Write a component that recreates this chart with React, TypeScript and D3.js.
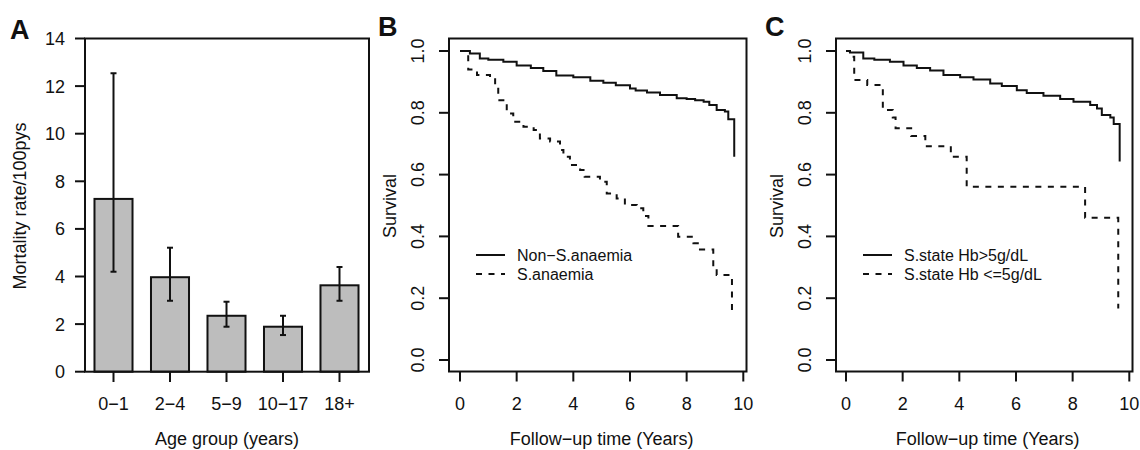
import React from 'react';
import * as d3 from 'd3';

// Panel A: mortality rate by age group
const ageGroups = ['0−1', '2−4', '5−9', '10−17', '18+'];
const mortRate = [7.26, 3.97, 2.35, 1.89, 3.63];
const mortLow = [4.2, 2.98, 1.89, 1.54, 2.98];
const mortHigh = [12.54, 5.21, 2.94, 2.35, 4.4];
const rateTicks = [0, 2, 4, 6, 8, 10, 12, 14];

// Panel B: Kaplan-Meier curves (step times / survival)
const bNonTime = [0, 0.35, 0.7, 1.0, 1.53, 2.0, 2.5, 2.94, 3.4, 4.0, 4.6, 5.06, 5.5, 6.0, 6.2, 6.6, 7.06, 7.65, 8.0, 8.3, 8.6, 8.8, 9.06, 9.35, 9.47, 9.68];
const bNonSurv = [1, 0.992, 0.976, 0.972, 0.965, 0.953, 0.945, 0.935, 0.921, 0.915, 0.904, 0.897, 0.889, 0.879, 0.872, 0.866, 0.858, 0.847, 0.845, 0.841, 0.836, 0.825, 0.809, 0.804, 0.779, 0.658];
const bSevTime = [0, 0.18, 0.29, 0.6, 1.06, 1.24, 1.35, 1.65, 1.88, 2.24, 2.6, 2.82, 3.18, 3.53, 3.65, 3.88, 4.24, 4.4, 4.94, 5.18, 5.53, 5.82, 6.24, 6.47, 6.65, 7.7, 8.24, 8.47, 8.94, 9.06, 9.6];
const bSevSurv = [1, 0.987, 0.94, 0.922, 0.912, 0.885, 0.841, 0.798, 0.771, 0.755, 0.744, 0.717, 0.707, 0.68, 0.658, 0.631, 0.615, 0.593, 0.577, 0.539, 0.523, 0.502, 0.491, 0.466, 0.434, 0.399, 0.378, 0.358, 0.302, 0.275, 0.162];

// Panel C
const cHighTime = [0, 0.14, 0.61, 1.0, 1.55, 2.03, 2.5, 2.97, 3.44, 4.03, 4.5, 5.09, 5.5, 6.03, 6.38, 6.97, 7.56, 8.03, 8.62, 8.86, 9.03, 9.33, 9.45, 9.66];
const cHighSurv = [1, 0.995, 0.976, 0.972, 0.965, 0.953, 0.945, 0.937, 0.922, 0.915, 0.908, 0.895, 0.887, 0.873, 0.864, 0.855, 0.845, 0.836, 0.825, 0.814, 0.793, 0.785, 0.764, 0.642];
const cLowTime = [0, 0.14, 0.29, 0.75, 1.3, 1.65, 1.75, 2.3, 2.8, 3.7, 4.26, 8.44, 9.61];
const cLowSurv = [1, 0.981, 0.906, 0.89, 0.809, 0.785, 0.75, 0.725, 0.692, 0.658, 0.561, 0.46, 0.167];

const timeTicks = [0, 2, 4, 6, 8, 10];
const survTicks = [0, 0.2, 0.4, 0.6, 0.8, 1.0];

const FONT = '"Liberation Sans", Arial, Helvetica, sans-serif';
const INK = '#111';
const DASH = '6,6.5';
const FS = 18;

const BarPanel = () => {
  const y = d3.scaleLinear().domain([0, 14]).range([371.7, 38.5]);
  const x = d3.scaleBand<string>()
    .domain(ageGroups)
    .range([85.25, 367.75])
    .paddingInner(0.327)
    .paddingOuter(0.1635);
  const bw = x.bandwidth();
  return (
    <g>
      {ageGroups.map((g, i) => (
        <rect key={g} x={x(g)} y={y(mortRate[i])} width={bw} height={y(0) - y(mortRate[i])}
          fill="#bdbdbd" stroke={INK} strokeWidth={2} />
      ))}
      {ageGroups.map((g, i) => {
        const cx = (x(g) as number) + bw / 2;
        return (
          <g key={'e' + g} stroke={INK} strokeWidth={2}>
            <line x1={cx} x2={cx} y1={y(mortLow[i])} y2={y(mortHigh[i])} />
            <line x1={cx - 3} x2={cx + 3} y1={y(mortLow[i])} y2={y(mortLow[i])} />
            <line x1={cx - 3} x2={cx + 3} y1={y(mortHigh[i])} y2={y(mortHigh[i])} />
          </g>
        );
      })}
      <rect x={85} y={38.5} width={284} height={371.7 - 38.5} fill="none" stroke={INK} strokeWidth={2} />
      {rateTicks.map(t => (
        <g key={t}>
          <line x1={75} x2={85} y1={y(t)} y2={y(t)} stroke={INK} strokeWidth={2} />
          <text x={65} y={y(t)} dy="0.36em" textAnchor="end" fontSize={FS}>{t}</text>
        </g>
      ))}
      {ageGroups.map(g => {
        const cx = (x(g) as number) + bw / 2;
        return (
          <g key={'t' + g}>
            <line x1={cx} x2={cx} y1={371.7} y2={382} stroke={INK} strokeWidth={2} />
            <text x={cx} y={409.5} textAnchor="middle" fontSize={FS}>{g}</text>
          </g>
        );
      })}
      <text x={227} y={445} textAnchor="middle" fontSize={FS}>Age group (years)</text>
      <text transform="translate(20,206) rotate(-90)" dy="0.35em" textAnchor="middle" fontSize={FS}>Mortality rate/100pys</text>
      <text x={10} y={39} fontSize={27} fontWeight="bold">A</text>
    </g>
  );
};

type KMProps = {
  letter: string;
  boxL: number; boxR: number;
  x0: number; x10: number;
  solidT: number[]; solidS: number[];
  dashT: number[]; dashS: number[];
  labels: [string, string];
};

const KMPanel = ({ letter, boxL, boxR, x0, x10, solidT, solidS, dashT, dashS, labels }: KMProps) => {
  const x = d3.scaleLinear().domain([0, 10]).range([x0, x10]);
  const y = d3.scaleLinear().domain([0, 1]).range([360, 51]);
  const line = d3.line<[number, number]>()
    .x(d => x(d[0]))
    .y(d => y(d[1]))
    .curve(d3.curveStepAfter);
  const solid = line(solidT.map((t, i) => [t, solidS[i]]));
  const dashed = line(dashT.map((t, i) => [t, dashS[i]]));
  const top = 38.5, bottom = 371.5;
  const legX = boxL + 27;
  return (
    <g>
      <path d={solid ?? ''} fill="none" stroke={INK} strokeWidth={2} />
      <path d={dashed ?? ''} fill="none" stroke={INK} strokeWidth={2} strokeDasharray={DASH} />
      <rect x={boxL} y={top} width={boxR - boxL} height={bottom - top} fill="none" stroke={INK} strokeWidth={2} />
      {survTicks.map(t => (
        <g key={t}>
          <line x1={boxL - 10} x2={boxL} y1={y(t)} y2={y(t)} stroke={INK} strokeWidth={2} />
          <text transform={`translate(${boxL - 31},${y(t)}) rotate(-90)`} textAnchor="middle"
            fontSize={FS} dy="0.36em">{t.toFixed(1)}</text>
        </g>
      ))}
      {timeTicks.map(t => (
        <g key={t}>
          <line x1={x(t)} x2={x(t)} y1={bottom} y2={bottom + 10} stroke={INK} strokeWidth={2} />
          <text x={x(t)} y={409.5} textAnchor="middle" fontSize={FS}>{t}</text>
        </g>
      ))}
      <text x={(x0 + x10) / 2} y={445} textAnchor="middle" fontSize={FS}>Follow−up time (Years)</text>
      <text transform={`translate(${boxL - 59},206) rotate(-90)`} textAnchor="middle" fontSize={FS} dy="0.35em">Survival</text>
      <line x1={legX} x2={legX + 29} y1={255} y2={255} stroke={INK} strokeWidth={2} />
      <line x1={legX} x2={legX + 29} y1={274} y2={274} stroke={INK} strokeWidth={2} strokeDasharray={DASH} />
      <text x={legX + 41} y={255} dy="0.35em" fontSize={16}>{labels[0]}</text>
      <text x={legX + 41} y={274} dy="0.35em" fontSize={16}>{labels[1]}</text>
      <text x={boxL - 71} y={36} fontSize={27} fontWeight="bold">{letter}</text>
    </g>
  );
};

export default function App() {
  return (
    <svg width={1140} height={450} style={{ position: 'absolute', left: 0, top: 0, background: '#fff' }}
      fontFamily={FONT} fill={INK}>
      <rect width={1140} height={450} fill="#fff" />
      <BarPanel />
      <KMPanel letter="B" boxL={449} boxR={746.5} x0={460} x10={743.3}
        solidT={bNonTime} solidS={bNonSurv} dashT={bSevTime} dashS={bSevSurv}
        labels={['Non−S.anaemia', 'S.anaemia']} />
      <KMPanel letter="C" boxL={836} boxR={1132.5} x0={846} x10={1129.3}
        solidT={cHighTime} solidS={cHighSurv} dashT={cLowTime} dashS={cLowSurv}
        labels={['S.state Hb>5g/dL', 'S.state Hb <=5g/dL']} />
    </svg>
  );
}
